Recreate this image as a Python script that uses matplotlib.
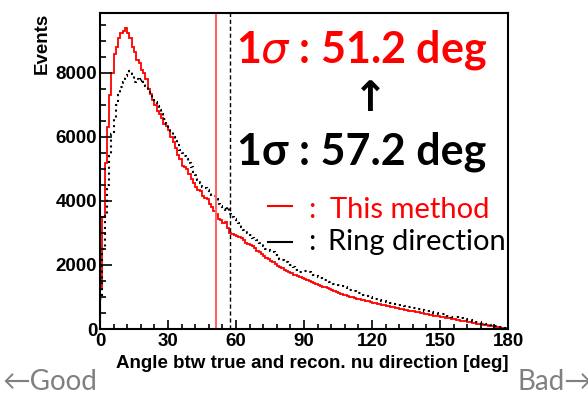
import numpy as np
import matplotlib
matplotlib.use('Agg')
import matplotlib.pyplot as plt
from matplotlib.ticker import MultipleLocator

# angle bins (1 deg wide), 0..180
bin_edges = list(range(0, 181))

# "This method" histogram (red), events per degree
this_method = [
	1300, 3500, 5200, 6300, 7300, 8000, 8600, 8800, 9100, 9250,
	9300, 9400, 9250, 9100, 8800, 8650, 8400, 8300, 8100, 8000,
	7800, 7500, 7350, 7150, 7000, 6800, 6700, 6600, 6400, 6350,
	6200, 6000, 5850, 5650, 5450, 5300, 5100, 5050, 5000, 4850,
	4700, 4550, 4450, 4350, 4300, 4150, 4100, 4050, 3900, 3800,
	3700, 3600, 3450, 3400, 3300, 3350, 3150, 3000, 2980, 2950,
	2900, 2880, 2850, 2780, 2700, 2650, 2620, 2580, 2520, 2450,
	2400, 2350, 2280, 2220, 2180, 2120, 2080, 2020, 1980, 1950,
	1900, 1850, 1820, 1790, 1750, 1700, 1680, 1650, 1630, 1590,
	1560, 1530, 1500, 1470, 1440, 1400, 1380, 1350, 1320, 1300,
	1270, 1240, 1210, 1180, 1150, 1120, 1100, 1070, 1050, 1030,
	1010, 990, 970, 950, 935, 915, 900, 880, 860, 840,
	810, 800, 785, 770, 755, 740, 720, 705, 690, 675,
	660, 645, 635, 620, 605, 590, 575, 560, 550, 535,
	520, 505, 490, 480, 465, 450, 435, 420, 410, 395,
	385, 370, 355, 340, 330, 315, 300, 290, 275, 260,
	250, 235, 220, 210, 195, 180, 170, 155, 145, 130,
	120, 105, 95, 80, 70, 60, 45, 35, 25, 15,
]

# "Ring direction" histogram (black dotted)
ring_dir = [
	950, 2500, 3600, 4500, 5400, 6100, 6600, 7000, 7300, 7550,
	7700, 7900, 8000, 8050, 7950, 7700, 7800, 7750, 7800, 7700,
	7600, 7450, 7350, 7200, 7100, 6950, 6850, 6700, 6550, 6400,
	6250, 6150, 6000, 5900, 5750, 5600, 5500, 5400, 5300, 5180,
	5050, 4900, 4800, 4650, 4550, 4450, 4400, 4350, 4300, 4200,
	4150, 4050, 3900, 3850, 3750, 3700, 3800, 3600, 3500, 3450,
	3350, 3300, 3200, 3100, 3050, 3000, 2950, 2850, 2800, 2780,
	2700, 2650, 2580, 2500, 2480, 2450, 2400, 2300, 2250, 2200,
	2150, 2100, 2080, 2050, 2000, 1950, 1850, 1800, 1780, 1800,
	1820, 1800, 1780, 1730, 1700, 1650, 1620, 1580, 1550, 1520,
	1490, 1470, 1450, 1420, 1400, 1380, 1350, 1330, 1300, 1260,
	1230, 1200, 1180, 1150, 1120, 1100, 1070, 1040, 1020, 990,
	970, 950, 930, 910, 890, 870, 850, 830, 810, 790,
	780, 765, 750, 740, 725, 710, 700, 690, 670, 650,
	630, 610, 590, 570, 555, 540, 525, 510, 495, 480,
	470, 455, 440, 420, 405, 390, 375, 360, 345, 330,
	315, 300, 285, 270, 255, 240, 225, 210, 195, 180,
	165, 150, 135, 120, 100, 85, 70, 50, 35, 20,
]

sigma_this = 51.2
sigma_ring = 57.2

W, H = 588, 395
fig = plt.figure(figsize=(W/100, H/100), dpi=100)
ax = fig.add_axes([100/W, 1-329/H, 408/W, 316/H])

ax.stairs(this_method, bin_edges, color='red', lw=1.3)
ax.stairs(ring_dir, bin_edges, color='black', lw=1.5, ls=(0, (1, 1.8)))
ax.axvline(sigma_this, color='#ff6666', lw=1.5)
ax.axvline(sigma_ring, color='black', lw=1.0, ls=(0, (3, 2)))

ax.set_xlim(0, 180)
ax.set_ylim(0, 9870)
ax.set_xticks(range(0, 181, 30))
ax.xaxis.set_minor_locator(MultipleLocator(6))
ax.yaxis.set_major_locator(MultipleLocator(2000))
ax.yaxis.set_minor_locator(MultipleLocator(500))
ax.tick_params(axis='both', which='both', direction='in', top=False, right=False, width=1.2)
ax.tick_params(axis='y', which='major', length=8.6, pad=2)
ax.tick_params(axis='y', which='minor', length=4.3)
ax.tick_params(axis='x', which='major', length=6.8, pad=3)
ax.tick_params(axis='x', which='minor', length=3.4)
for lab in ax.get_xticklabels() + ax.get_yticklabels():
	lab.set_family('Liberation Sans')
	lab.set_fontweight('bold')
	lab.set_fontsize(13.5)
for sp in ax.spines.values():
	sp.set_linewidth(1.5)

ax.set_xlabel('Angle btw true and recon. nu direction [deg]', family='Liberation Sans',
	fontweight='bold', fontsize=13.5, loc='right')
ax.xaxis.set_label_coords(1.0, -0.082)
ax.set_ylabel('Events', family='Liberation Sans', fontweight='bold', fontsize=13.5, loc='top')
ax.yaxis.set_label_coords(-0.12, 1.0)

fam = ['Lato', 'DejaVu Sans']
fig.text(236/W, 1-63/H, r'1$\sigma$ : 51.2 deg', color='red', family=fam, fontweight='bold',
	fontsize=31, ha='left', va='baseline')
fig.text(370/W, 1-99/H, '↑', color='black', family='DejaVu Sans', fontweight='bold',
	fontsize=30, ha='center', va='center')
fig.text(237/W, 1-165/H, '1σ : 57.2 deg', color='black', family=fam, fontweight='bold',
	fontsize=31, ha='left', va='baseline')

# legend-like annotation
fig.add_artist(plt.Line2D([268/W, 292/W], [1-206/H, 1-206/H], color='red', lw=1.5))
fig.add_artist(plt.Line2D([268/W, 292/W], [1-242/H, 1-242/H], color='black', lw=1.5))
fig.text(312/W, 1-218/H, ':', color='red', family=fam, fontsize=21, ha='center', va='baseline')
fig.text(330/W, 1-218/H, 'This method', color='red', family=fam, fontsize=21, ha='left', va='baseline')
fig.text(312/W, 1-250/H, ':', color='black', family=fam, fontsize=21, ha='center', va='baseline')
fig.text(328/W, 1-250/H, 'Ring direction', color='black', family=fam, fontsize=21, ha='left', va='baseline')

fig.text(3/W, 1-390/H, '←Good', color='#808080', family=fam, fontsize=20, ha='left', va='baseline')
fig.text(518/W, 1-390/H, 'Bad→', color='#808080', family=fam, fontsize=20, ha='left', va='baseline')

fig.savefig('out.png', dpi=100)
